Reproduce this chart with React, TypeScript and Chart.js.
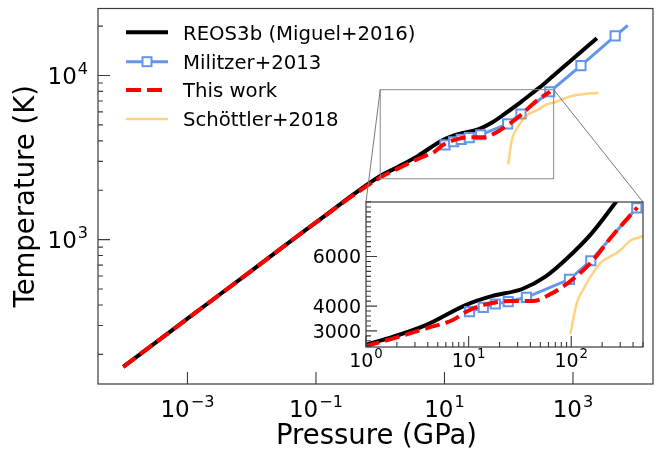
import React, { useEffect, useRef } from 'react';
import { Chart, registerables } from 'chart.js';

Chart.register(...registerables);

const FONT = "'DejaVu Sans', sans-serif";

// ---- data (pressure in GPa, temperature in K) ----
const reosP = [1e-4, 1e-3, 1e-2, 0.1, 1, 1.85, 3.88, 9.46, 17.1, 33.3, 56, 87.5, 158, 266, 331, 500, 857, 2355];
const reosT = [168, 330, 648, 1273, 2440, 2765, 3240, 4050, 4410, 4690, 5190, 5860, 6935, 8144, 8700, 10000, 12000, 16880];

const milP = [10.2, 13.9, 18.2, 24.3, 36.6, 96, 155, 435, 1330, 4540, 7130];
const milT = [3775, 3950, 4085, 4180, 4355, 5080, 5830, 7965, 11490, 17420, 20200];
const milMarker = [1, 1, 1, 1, 1, 1, 1, 1, 1, 1, 0];

const workP = [1e-4, 1e-3, 1e-2, 0.1, 1, 1.85, 3.88, 7.03, 9.46, 14.8, 24.8, 41.7, 65, 101, 158, 247, 440];
const workT = [168, 330, 648, 1273, 2390, 2700, 3105, 3440, 3775, 4070, 4205, 4205, 4515, 5050, 5790, 6800, 7980];

const schP = [98, 113, 135, 147, 191, 288, 385, 481, 964, 2500];
const schT = [2875, 4110, 4770, 5050, 5725, 6195, 6665, 6800, 7500, 7850];

const seriesLabels = ['REOS3b (Miguel+2016)', 'Militzer+2013', 'This work', 'Schöttler+2018'];

// axis limits
const X_MIN = 4.05e-5;
const X_MAX = 17600;
const Y_MIN = 132;
const Y_MAX = 25600;
const IN_X_MIN = 1;
const IN_X_MAX = 500;
const IN_Y_MIN = 2350;
const IN_Y_MAX = 8200;

// tick values / labels
const mainXTicks = [1e-3, 1e-1, 1e1, 1e3];
const mainXExp = ['\u22123', '\u22121', '1', '3'];
const mainYTicks = [1e3, 1e4];
const mainYExp = ['3', '4'];
const mainYMinor = [200, 300, 400, 500, 600, 700, 800, 900, 2000, 3000, 4000, 5000, 6000, 7000, 8000, 9000, 20000];
const inXTicks = [1, 10, 100];
const inXExp = ['0', '1', '2'];
const inXMinor = [2, 3, 4, 5, 6, 7, 8, 9, 20, 30, 40, 50, 60, 70, 80, 90, 200, 300, 400, 500];
const inYTicks = [3000, 4000, 6000];
const inYTickLabels = ['3000', '4000', '6000'];

// colours
const C_BLACK = '#000000';
const C_BLUE = '#6495ED';
const C_RED = '#ff0000';
const C_ORANGE = 'rgba(255,165,0,0.5)';
const C_AXIS = '#3a3a3a';

// layout (page px)
const W = 667;
const H = 452;
const MAIN_PAD = { left: 98, right: 14, top: 6, bottom: 68 };
const INSET_BOX = { left: 366, top: 202, right: 643, bottom: 347 };
const INSET_CANVAS = { left: 300, top: 190, width: 360, height: 190 };

function pts(xs: number[], ys: number[]) {
  return xs.map((x, i) => ({ x, y: ys[i] }));
}

function makeDatasets(markerR: number) {
  return [
    {
      label: seriesLabels[0], data: pts(reosP, reosT), showLine: true,
      borderColor: C_BLACK, borderWidth: 4, pointRadius: 0, order: 4,
      borderJoinStyle: 'round' as const, clip: 0, cubicInterpolationMode: 'monotone' as const,
    },
    {
      label: seriesLabels[1], data: pts(milP, milT), showLine: true,
      borderColor: C_BLUE, borderWidth: 3, order: 3,
      pointStyle: 'rect' as const,
      pointRadius: milMarker.map((m) => (m ? markerR : 0)),
      pointBorderColor: C_BLUE, pointBackgroundColor: '#ffffff', pointBorderWidth: 2,
      clip: 0,
    },
    {
      label: seriesLabels[2], data: pts(workP, workT), showLine: true,
      borderColor: C_RED, borderWidth: 4, borderDash: [15, 6], pointRadius: 0, order: 2,
      borderCapStyle: 'butt' as const, clip: 0, cubicInterpolationMode: 'monotone' as const,
    },
    {
      label: seriesLabels[3], data: pts(schP, schT), showLine: true,
      borderColor: C_ORANGE, borderWidth: 2.5, pointRadius: 0, order: 1, clip: 0,
      cubicInterpolationMode: 'monotone' as const,
    },
  ];
}

function drawPow(ctx: CanvasRenderingContext2D, exp: string, x: number, y: number, size: number, align: 'center' | 'right') {
  const baseFont = `${size}px ${FONT}`;
  const supSize = size * 0.7;
  const supFont = `${supSize}px ${FONT}`;
  ctx.font = baseFont;
  const wb = ctx.measureText('10').width;
  ctx.font = supFont;
  const ws = ctx.measureText(exp).width;
  const total = wb + 1 + ws;
  const x0 = align === 'center' ? x - total / 2 : x - total;
  ctx.textAlign = 'left';
  ctx.textBaseline = 'alphabetic';
  ctx.fillStyle = '#000';
  ctx.font = baseFont;
  ctx.fillText('10', x0, y);
  ctx.font = supFont;
  ctx.fillText(exp, x0 + wb + 1, y - size * 0.45);
}

const mainDecor = {
  id: 'mainDecor',
  beforeDraw(chart: any) {
    const ctx = chart.ctx;
    ctx.save();
    ctx.fillStyle = '#ffffff';
    ctx.fillRect(0, 0, chart.width, chart.height);
    ctx.restore();
  },
  afterDatasetsDraw(chart: any) {
    const ctx: CanvasRenderingContext2D = chart.ctx;
    const a = chart.chartArea;
    const xs = chart.scales.x;
    const ys = chart.scales.y;
    ctx.save();

    // inset indicator rectangle + connectors
    const rx1 = xs.getPixelForValue(IN_X_MIN);
    const rx2 = xs.getPixelForValue(IN_X_MAX);
    const ry1 = ys.getPixelForValue(IN_Y_MAX);
    const ry2 = ys.getPixelForValue(IN_Y_MIN);
    ctx.strokeStyle = '#8a8a8a';
    ctx.lineWidth = 1;
    ctx.strokeRect(rx1, ry1, rx2 - rx1, ry2 - ry1);
    ctx.strokeStyle = '#7a7a7a';
    ctx.beginPath();
    ctx.moveTo(rx1, ry1);
    ctx.lineTo(INSET_BOX.left, INSET_BOX.top);
    ctx.moveTo(rx2, ry1);
    ctx.lineTo(INSET_BOX.right, INSET_BOX.top);
    ctx.stroke();

    // frame
    ctx.strokeStyle = C_AXIS;
    ctx.lineWidth = 1.2;
    ctx.strokeRect(a.left, a.top, a.right - a.left, a.bottom - a.top);

    // ticks (inward)
    ctx.lineWidth = 1.1;
    ctx.beginPath();
    mainXTicks.forEach((v) => {
      const px = xs.getPixelForValue(v);
      ctx.moveTo(px, a.bottom);
      ctx.lineTo(px, a.bottom - 12);
    });
    mainYTicks.forEach((v) => {
      const py = ys.getPixelForValue(v);
      ctx.moveTo(a.left, py);
      ctx.lineTo(a.left + 12, py);
    });
    mainYMinor.forEach((v) => {
      const py = ys.getPixelForValue(v);
      ctx.moveTo(a.left, py);
      ctx.lineTo(a.left + 5, py);
    });
    ctx.stroke();

    // tick labels
    const ts = 23;
    mainXTicks.forEach((v, i) => {
      drawPow(ctx, mainXExp[i], xs.getPixelForValue(v), a.bottom + 33, ts, 'center');
    });
    mainYTicks.forEach((v, i) => {
      drawPow(ctx, mainYExp[i], a.left - 10, ys.getPixelForValue(v) + ts * 0.729 / 2, ts, 'right');
    });

    // axis titles
    ctx.fillStyle = '#000';
    ctx.font = `27.5px ${FONT}`;
    ctx.textAlign = 'center';
    ctx.textBaseline = 'alphabetic';
    ctx.fillText('Pressure (GPa)', (a.left + a.right) / 2 + 1, a.bottom + 60);
    ctx.save();
    ctx.translate(34, (a.top + a.bottom) / 2);
    ctx.rotate(-Math.PI / 2);
    ctx.fillText('Temperature (K)', 0, 0);
    ctx.restore();

    // legend
    const rows = [32.3, 61.7, 90, 119];
    const hx1 = 126;
    const hx2 = 168;
    const styles = [
      { c: C_BLACK, w: 4, dash: [] as number[] },
      { c: C_BLUE, w: 3, dash: [] as number[] },
      { c: C_RED, w: 4, dash: [15, 6] },
      { c: C_ORANGE, w: 2.5, dash: [] as number[] },
    ];
    styles.forEach((s, i) => {
      ctx.strokeStyle = s.c;
      ctx.lineWidth = s.w;
      ctx.lineCap = 'butt';
      ctx.setLineDash(s.dash);
      ctx.beginPath();
      ctx.moveTo(hx1, rows[i]);
      ctx.lineTo(hx2, rows[i]);
      ctx.stroke();
      ctx.setLineDash([]);
      if (i === 1) {
        const side = 9;
        const cx = (hx1 + hx2) / 2;
        ctx.fillStyle = '#fff';
        ctx.fillRect(cx - side / 2, rows[i] - side / 2, side, side);
        ctx.lineWidth = 2;
        ctx.strokeRect(cx - side / 2, rows[i] - side / 2, side, side);
      }
      ctx.fillStyle = '#000';
      ctx.font = `19.7px ${FONT}`;
      ctx.textAlign = 'left';
      ctx.textBaseline = 'alphabetic';
      ctx.fillText(seriesLabels[i], 183, rows[i] + 7.2);
    });

    ctx.restore();
  },
};

const insetDecor = {
  id: 'insetDecor',
  beforeDatasetsDraw(chart: any) {
    const ctx = chart.ctx;
    const a = chart.chartArea;
    ctx.save();
    ctx.fillStyle = '#ffffff';
    ctx.fillRect(a.left, a.top, a.right - a.left, a.bottom - a.top);
    ctx.restore();
  },
  afterDatasetsDraw(chart: any) {
    const ctx: CanvasRenderingContext2D = chart.ctx;
    const a = chart.chartArea;
    const xs = chart.scales.x;
    const ys = chart.scales.y;
    ctx.save();
    ctx.strokeStyle = C_AXIS;
    ctx.lineWidth = 1.2;
    ctx.strokeRect(a.left, a.top, a.right - a.left, a.bottom - a.top);

    ctx.lineWidth = 1.1;
    ctx.beginPath();
    inXTicks.forEach((v) => {
      const px = xs.getPixelForValue(v);
      ctx.moveTo(px, a.bottom);
      ctx.lineTo(px, a.bottom - 11);
    });
    inXMinor.forEach((v) => {
      const px = xs.getPixelForValue(v);
      ctx.moveTo(px, a.bottom);
      ctx.lineTo(px, a.bottom - 5);
    });
    inYTicks.forEach((v) => {
      const py = ys.getPixelForValue(v);
      ctx.moveTo(a.left, py);
      ctx.lineTo(a.left + 11, py);
    });
    for (let v = 2400; v <= IN_Y_MAX; v += 200) {
      if (inYTicks.includes(v)) continue;
      const py = ys.getPixelForValue(v);
      ctx.moveTo(a.left, py);
      ctx.lineTo(a.left + 5, py);
    }
    ctx.stroke();

    const ts = 19;
    inXTicks.forEach((v, i) => {
      drawPow(ctx, inXExp[i], xs.getPixelForValue(v), a.bottom + 20, ts, 'center');
    });
    ctx.fillStyle = '#000';
    ctx.font = `${ts}px ${FONT}`;
    ctx.textAlign = 'right';
    ctx.textBaseline = 'alphabetic';
    inYTicks.forEach((v, i) => {
      ctx.fillText(inYTickLabels[i], a.left - 5, ys.getPixelForValue(v) + ts * 0.729 / 2);
    });
    ctx.restore();
  },
};

export default function App() {
  const mainRef = useRef<HTMLCanvasElement>(null);
  const insetRef = useRef<HTMLCanvasElement>(null);

  useEffect(() => {
    document.body.style.margin = '0';
    const main = new Chart(mainRef.current as HTMLCanvasElement, {
      type: 'scatter',
      data: { datasets: makeDatasets(6.5) as any },
      options: {
        responsive: false,
        animation: false,
        layout: { padding: MAIN_PAD },
        scales: {
          x: { type: 'logarithmic', min: X_MIN, max: X_MAX, display: false, bounds: 'data' } as any,
          y: { type: 'logarithmic', min: Y_MIN, max: Y_MAX, display: false, bounds: 'data' } as any,
        },
        plugins: { legend: { display: false }, tooltip: { enabled: false } },
        events: [],
      },
      plugins: [mainDecor],
    });
    const ic = INSET_CANVAS;
    const inset = new Chart(insetRef.current as HTMLCanvasElement, {
      type: 'scatter',
      data: { datasets: makeDatasets(6.5) as any },
      options: {
        responsive: false,
        animation: false,
        layout: {
          padding: {
            left: INSET_BOX.left - ic.left,
            top: INSET_BOX.top - ic.top,
            right: ic.left + ic.width - INSET_BOX.right,
            bottom: ic.top + ic.height - INSET_BOX.bottom,
          },
        },
        scales: {
          x: { type: 'logarithmic', min: IN_X_MIN, max: IN_X_MAX, display: false, bounds: 'data' } as any,
          y: { type: 'linear', min: IN_Y_MIN, max: IN_Y_MAX, display: false, bounds: 'data' } as any,
        },
        plugins: { legend: { display: false }, tooltip: { enabled: false } },
        events: [],
      },
      plugins: [insetDecor],
    });
    return () => {
      main.destroy();
      inset.destroy();
    };
  }, []);

  return (
    <div style={{ position: 'absolute', left: 0, top: 0, width: W, height: H, background: '#fff' }}>
      <canvas ref={mainRef} width={W} height={H} style={{ position: 'absolute', left: 0, top: 0, width: W, height: H }} />
      <canvas
        ref={insetRef}
        width={INSET_CANVAS.width}
        height={INSET_CANVAS.height}
        style={{
          position: 'absolute',
          left: INSET_CANVAS.left,
          top: INSET_CANVAS.top,
          width: INSET_CANVAS.width,
          height: INSET_CANVAS.height,
        }}
      />
    </div>
  );
}
